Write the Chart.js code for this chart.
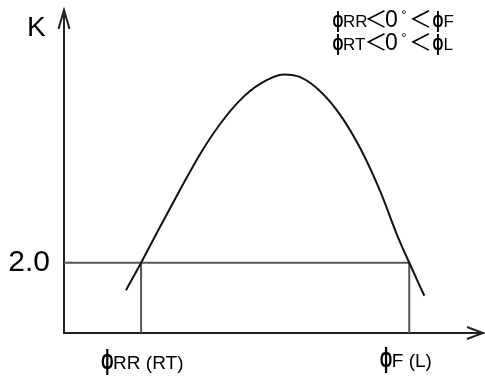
<!DOCTYPE html>
<html>
<head>
<meta charset="utf-8">
<script src="https://cdn.jsdelivr.net/npm/chart.js@4"></script>
<style>
html, body { margin: 0; padding: 0; background: #fff; }
#wrap { width: 485px; height: 378px; }
</style>
</head>
<body>
<div id="wrap"><canvas id="chart"></canvas></div>
<script>
// curve (x in arbitrary phase units 0..100, K on the vertical)
var curveX = [14.8, 18.4, 23.0, 27.8, 32.5, 37.3, 42.1, 46.9, 52.5, 56.5, 61.2, 66.0, 70.8, 75.6, 79.6, 82.4, 86.0];
var curveK = [1.61, 2.0, 2.52, 3.05, 3.55, 3.98, 4.32, 4.55, 4.68, 4.64, 4.44, 4.10, 3.62, 3.00, 2.38, 2.0, 1.53];
var markX = [18.4, 82.4];
var markLabels = [["ϕ", "RR (RT)"], ["ϕ", "F (L)"]];
var refK = 2.0;
var kMin = 1.0, kMax = 5.6;
var xMin = 0, xMax = 100;

var F = "'Liberation Sans', Arial, sans-serif";
var CJK = "'Noto Sans CJK JP', sans-serif";
// runs: text, size, font, x offset, y offset, horizontal squeeze, weight
var noteLines = [
    [["ϕ", 22, F, -0.5, 0, 0.66, 'bold '], ["RR", 17, F, 10], ["＜", 23, CJK, 31.5], ["0", 23, F, 52], ["°", 14, F, 68, -6.5], ["＜", 23, CJK, 76], ["ϕ", 22, F, 99.5, 0, 0.66, 'bold '], ["F", 17, F, 110.5]],
    [["ϕ", 22, F, -0.5, 0, 0.66, 'bold '], ["RT", 17, F, 10], ["＜", 23, CJK, 31.5], ["0", 23, F, 52], ["°", 14, F, 68, -6.5], ["＜", 23, CJK, 76], ["ϕ", 22, F, 99.5, 0, 0.66, 'bold '], ["L", 17, F, 110.5]]
];
var markLabelDx = [-40, -29.5];
var markLabelY = [368.5, 367];

function drawRuns(ctx, x, y, runs) {
    runs.forEach(function (r) {
        ctx.save();
        ctx.font = (r[6] || '') + r[1] + 'px ' + r[2];
        ctx.translate(x + (r[3] || 0), y + (r[4] || 0));
        ctx.scale(r[5] || 1, 1);
        ctx.fillText(r[0], 0, 0);
        ctx.restore();
    });
}

var extras = {
    id: 'extras',
    afterDraw: function (chart) {
        var ctx = chart.ctx, a = chart.chartArea;
        var xs = chart.scales.x;
        ctx.save();
        // arrow heads
        ctx.strokeStyle = '#222';
        ctx.lineWidth = 2;
        ctx.beginPath();
        ctx.moveTo(a.left - 5.5, a.top + 19);
        ctx.lineTo(a.left, a.top);
        ctx.lineTo(a.left + 5.5, a.top + 19);
        ctx.moveTo(a.right - 16, a.bottom - 6);
        ctx.lineTo(a.right, a.bottom);
        ctx.lineTo(a.right - 16, a.bottom + 6);
        ctx.stroke();

        ctx.fillStyle = '#000';
        ctx.textBaseline = 'alphabetic';
        ctx.textAlign = 'left';
        ctx.font = '28px ' + F;
        ctx.fillText('K', 27, 36);

        // labels under the marks
        markX.forEach(function (v, i) {
            var runs = [[markLabels[i][0], 27, F, 0, 0, 0.62, 'bold '], [markLabels[i][1], 19, F, 12]];
            drawRuns(ctx, xs.getPixelForValue(v) + markLabelDx[i], markLabelY[i], runs);
        });

        // note in the top right corner
        drawRuns(ctx, 333, 26.5, noteLines[0]);
        drawRuns(ctx, 333, 49.5, noteLines[1]);
        ctx.restore();
    }
};

function pts(xv, yv) {
    return xv.map(function (x, i) { return { x: x, y: yv[i] }; });
}

var chart = new Chart(document.getElementById("chart"), {
    type: 'line',
    data: {
        datasets: [
            {
                data: pts(curveX, curveK),
                borderColor: '#111',
                borderWidth: 2,
                pointRadius: 0,
                cubicInterpolationMode: 'monotone',
                fill: false
            },
            {
                data: pts([xMin, markX[1]], [refK, refK]),
                borderColor: '#555',
                borderWidth: 2,
                pointRadius: 0
            },
            {
                data: pts([markX[0], markX[0]], [kMin, refK]),
                borderColor: '#555',
                borderWidth: 2,
                pointRadius: 0
            },
            {
                data: pts([markX[1], markX[1]], [kMin, refK]),
                borderColor: '#555',
                borderWidth: 2,
                pointRadius: 0
            }
        ]
    },
    options: {
        responsive: true,
        maintainAspectRatio: false,
        animation: false,
        layout: { padding: { top: 10, right: 2, left: 0, bottom: 0 } },
        plugins: {
            legend: { display: false },
            tooltip: { enabled: false }
        },
        scales: {
            x: {
                type: 'linear',
                min: xMin,
                max: xMax,
                grid: { display: false, drawTicks: false },
                border: { display: true, color: '#222', width: 2 },
                ticks: { display: false },
                afterFit: function (s) {
                    s.height = 45;
                    s.paddingLeft = 0;
                    s.paddingRight = 0;
                }
            },
            y: {
                min: kMin,
                max: kMax,
                grid: { display: false, drawTicks: false },
                border: { display: true, color: '#222', width: 2 },
                afterBuildTicks: function (s) { s.ticks = [{ value: refK }]; },
                ticks: {
                    padding: 14,
                    color: '#000',
                    font: { size: 30, family: F },
                    callback: function (v) { return Number(v).toFixed(1); }
                },
                afterFit: function (s) {
                    s.width = 64;
                    s.paddingTop = 0;
                    s.paddingBottom = 0;
                }
            }
        }
    },
    plugins: [extras]
});
</script>
</body>
</html>
